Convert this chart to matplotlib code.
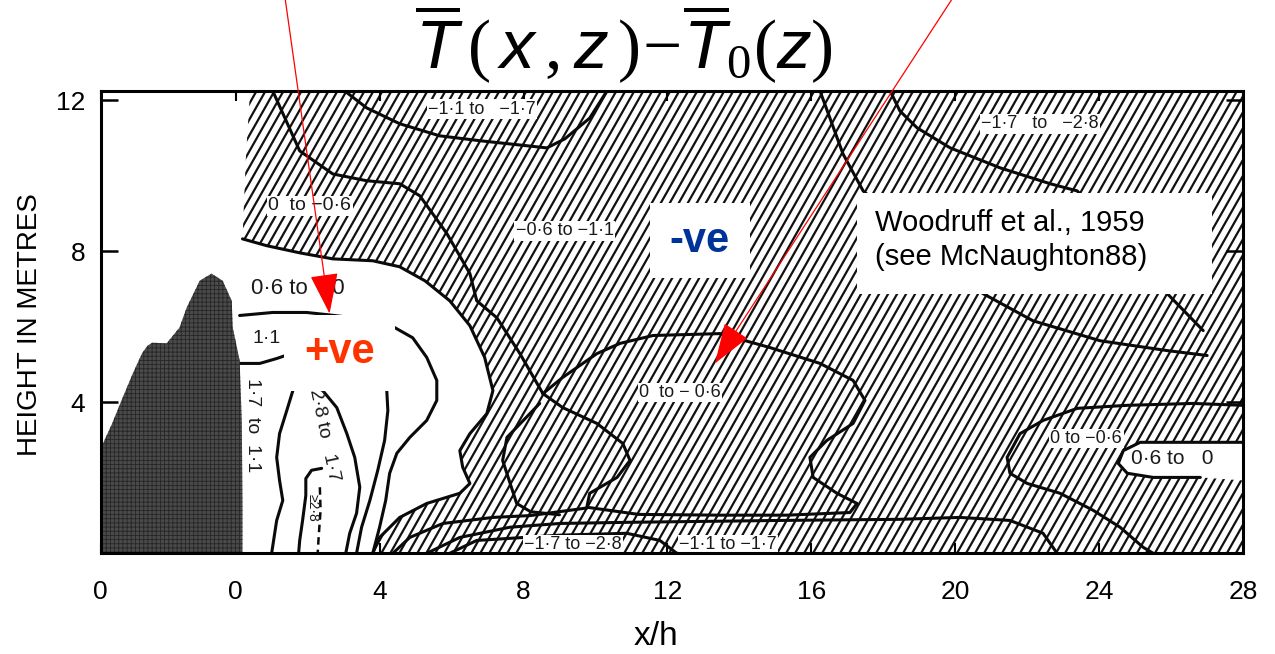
import matplotlib
matplotlib.use('Agg')
import matplotlib.pyplot as plt
import numpy as np
from matplotlib.patches import Polygon, Rectangle
from matplotlib.collections import LineCollection

# shelterbelt / hill profile
hill_x = [-3.75, -3.45, -3.15, -2.86, -2.6, -2.45, -2.31, -1.92, -1.56, -1.36, -1.0,
          -0.67, -0.36, -0.11, -0.08, 0.11, 0.17, 0.19, 0.19]
hill_z = [2.78, 3.4, 4.1, 4.76, 5.3, 5.5, 5.58, 5.56, 5.98, 6.51, 7.22,
          7.41, 7.22, 6.69, 5.98, 5.11, 3.52, 1.40, 0.0]

# zero line: edge of the cold (hatched) field, from the top down to the ground
edge_x = [0.40, 0.28, 0.19, 0.86, 1.78, 2.70, 3.81, 4.56, 5.26, 5.95, 6.51, 6.92,
          7.15, 6.98, 6.51, 6.23, 6.31, 6.51, 6.23, 5.31, 4.56, 4.00, 3.81]
edge_z = [12.25, 10.40, 8.33, 8.15, 7.96, 7.80, 7.75, 7.59, 7.22, 6.69, 6.03, 5.19,
          4.31, 3.70, 3.17, 2.72, 2.28, 1.85, 1.59, 1.32, 0.95, 0.42, 0.0]

# small warm bubble on the right boundary
bub_x = [28.0, 25.14, 24.67, 24.53, 24.78, 25.50, 26.81, 28.0]
bub_z = [2.94, 2.94, 2.72, 2.38, 2.12, 2.01, 2.01, 1.93]

# isotherms in the cold field
n06_x = [1.03, 1.78, 2.70, 3.64, 4.56, 5.12, 5.87, 6.51, 6.70, 7.26, 7.90, 8.54]
n06_z = [12.25, 10.66, 10.05, 9.87, 9.79, 9.47, 8.47, 7.41, 6.69, 6.24, 5.29, 4.23]

mid_x = [8.54, 9.09, 10.04, 10.68, 11.60, 13.46, 14.85, 16.24, 17.16, 17.49, 17.16, 16.43,
         15.96, 16.05, 16.71, 17.27, 17.07, 15.32, 13.46, 11.20, 9.76, 9.84, 10.60, 10.96,
         10.76, 10.04, 9.09, 8.54]
mid_z = [4.23, 4.66, 5.29, 5.56, 5.77, 5.82, 5.45, 5.03, 4.58, 4.05, 3.44, 2.99,
         2.54, 2.01, 1.59, 1.32, 1.08, 1.01, 1.01, 1.03, 1.22, 1.59, 2.01, 2.46,
         2.91, 3.44, 3.86, 4.23]

sad_x = [8.45, 7.54, 7.42, 7.81, 8.20, 9.0]
sad_z = [3.97, 3.07, 2.46, 1.32, 1.10, 1.02]

bb_x = [4.37, 4.84, 5.76, 7.15, 8.20, 9.76]
bb_z = [0.0, 0.42, 0.79, 0.95, 1.0, 1.2]
bc_x = [5.31, 6.23, 7.62, 9.01, 10.87, 15.13, 18.46, 20.13, 21.52, 22.44, 22.83]
bc_z = [0.0, 0.42, 0.69, 0.79, 0.82, 0.87, 0.90, 0.95, 0.87, 0.53, 0.0]
bd_x = [5.95, 6.70, 9.01, 10.87, 11.79, 12.26]
bd_z = [0.0, 0.34, 0.48, 0.53, 0.34, 0.0]

t11_x = [3.03, 3.64, 4.56, 5.67, 6.79, 8.65, 9.15, 9.84, 10.32]
t11_z = [12.25, 11.80, 11.38, 11.06, 10.93, 10.74, 10.98, 11.53, 12.25]
u1_x = [16.24, 16.88, 17.44, 20.77, 22.16, 24.03, 25.89, 27.0]
u1_z = [12.25, 10.58, 9.60, 6.88, 6.16, 5.63, 5.37, 5.24]
u2_x = [18.19, 18.46, 18.94, 19.86, 21.25, 22.64, 23.39, 25.89, 26.89]
u2_z = [12.25, 11.72, 11.27, 10.74, 10.21, 9.79, 9.60, 6.88, 5.90]
r1_x = [28.0, 26.61, 24.78, 23.39, 22.44, 21.80, 21.44, 21.52, 22.0, 22.91, 23.83, 24.58, 25.22, 25.5]
r1_z = [3.92, 3.97, 3.92, 3.84, 3.52, 3.17, 2.54, 2.12, 1.85, 1.59, 1.14, 0.69, 0.16, 0.0]

# isotherms in the warm zone behind the hill
w06_x = [0.11, 1.03, 1.97, 2.56, 3.45, 4.42, 4.92, 5.31, 5.59, 5.59, 5.31, 4.84, 4.48, 4.28, 4.17, 4.00, 3.81]
w06_z = [6.30, 6.38, 6.38, 6.32, 6.22, 5.98, 5.71, 5.19, 4.58, 4.05, 3.52, 3.07, 2.65, 2.12, 1.40, 0.69, 0.0]
w11_x = [0.11, 0.67, 1.14, 1.45]
w11_z = [5.03, 5.03, 5.16, 5.26]
w17a_x = [1.59, 1.42, 1.22, 1.14, 1.22, 1.31, 1.14, 1.00]
w17a_z = [4.31, 3.78, 3.17, 2.54, 1.93, 1.40, 0.87, 0.0]
w17b_x = [2.42, 2.81, 3.09, 3.31, 3.45, 3.36, 3.17, 3.06]
w17b_z = [4.31, 3.86, 3.17, 2.54, 1.75, 1.06, 0.53, 0.0]
w17c_x = [4.20, 4.23, 4.14, 3.95, 3.73, 3.50, 3.36]
w17c_z = [4.31, 3.78, 2.99, 2.20, 1.40, 0.69, 0.0]
w28a_x = [2.39, 2.11, 1.95, 1.95, 1.86, 1.78, 1.75]
w28a_z = [2.25, 2.20, 1.98, 1.53, 0.87, 0.34, 0.0]
w28b_x = [2.34, 2.36, 2.31, 2.28]
w28b_z = [1.75, 1.14, 0.48, 0.0]

# region labels: text, x, z, rotation, sits on hatching?
lab_text = ['0  to \u22120\u00b76', '\u22120\u00b76 to \u22121\u00b71', '\u22121\u00b71 to   \u22121\u00b77',
            '\u22121\u00b77   to   \u22122\u00b78', '0\u00b76 to    0', '1\u00b71', '1\u00b77  to  1\u00b71',
            '2\u00b78 to   1\u00b77', '\u22652\u00b78', '0  to \u2212 0\u00b76', '\u22121\u00b77 to \u22122\u00b78',
            '\u22121\u00b71 to \u22121\u00b77', '0 to \u22120\u00b76', '0\u00b76 to   0']
lab_x = [2.06, 9.15, 6.84, 22.36, 1.72, 0.86, 0.47, 2.45, 2.15, 12.35, 9.37, 13.68, 23.64, 26.03]
lab_z = [9.21, 8.54, 11.77, 11.38, 7.01, 5.69, 3.39, 3.12, 1.19, 4.26, 0.23, 0.23, 3.04, 2.51]
lab_rot = [0, 0, 0, 0, 0, 0, -90, -78, -90, 0, 0, 0, 0, 0]
lab_hatch = [True, True, True, True, False, False, False, False, False, True, True, True, True, False]
lab_size = [14, 13, 13, 13, 16, 14, 14, 14, 10, 13, 13, 13, 13, 15]

xtick_pos = [-3.75, 0, 4, 8, 12, 16, 20, 24, 28]
xtick_lab = ['0', '0', '4', '8', '12', '16', '20', '24', '28']
ytick_pos = [4, 8, 12]

plt.rcParams['font.family'] = 'Liberation Sans'
plt.rcParams['mathtext.fontset'] = 'custom'
plt.rcParams['mathtext.it'] = 'Liberation Sans:italic'
plt.rcParams['mathtext.rm'] = 'Liberation Serif'
plt.rcParams['hatch.linewidth'] = 0.6

fig = plt.figure(figsize=(12.75, 6.54), dpi=100)
ax = fig.add_axes([0.079, 0.154, 0.896, 0.707])
ax.set_xlim(-3.75, 28)
ax.set_ylim(0, 12.25)

# cold field: hatched
cold = list(zip(edge_x, edge_z)) + [(28.0, 0.0)] + list(zip(bub_x[::-1], bub_z[::-1])) + [(28.0, 12.25)]
cold_patch = Polygon(cold, closed=True, fc='none', ec='none')
ax.add_patch(cold_patch)
offs = np.arange(-8.0, 28.5, 0.25)
slope = 1.65
segs = [[(o, -0.5), (o + 13.0 / slope, 12.75)] for o in offs]
hatch = LineCollection(segs, colors='#111111', linewidths=1.6, zorder=1)
hatch.set_clip_path(cold_patch)
ax.add_collection(hatch)

# hill
ax.fill(hill_x + [-3.75], hill_z + [0.0], facecolor='#4a4a4a', edgecolor='#262626',
        hatch='++++', lw=0, zorder=3)

lines = [(edge_x[2:], edge_z[2:]), (bub_x[:7], bub_z[:7]), (n06_x, n06_z), (mid_x, mid_z),
         (sad_x, sad_z), (bb_x, bb_z), (bc_x, bc_z), (bd_x, bd_z), (t11_x, t11_z),
         (u1_x, u1_z), (u2_x, u2_z), (r1_x, r1_z), (w06_x, w06_z), (w11_x, w11_z),
         (w17a_x, w17a_z), (w17b_x, w17b_z), (w17c_x, w17c_z), (w28a_x, w28a_z)]
for lx, lz in lines:
    ax.plot(lx, lz, color='#0a0a0a', lw=2.2, zorder=2, solid_capstyle='round')
ax.plot(w28b_x, w28b_z, color='#0a0a0a', lw=1.8, ls=(0, (3, 2)), zorder=2)

for t, x, z, r, h, s in zip(lab_text, lab_x, lab_z, lab_rot, lab_hatch, lab_size):
    bb = dict(facecolor='white', edgecolor='none', pad=1.0) if h else None
    ax.text(x, z, t, rotation=r, ha='center', va='center', fontsize=s,
            color='#1a1a1a', bbox=bb, zorder=4)

ax.set_xticks(xtick_pos)
ax.set_xticklabels(xtick_lab)
ax.set_yticks(ytick_pos)
ax.set_yticklabels([str(v) for v in ytick_pos])
ax.tick_params(axis='x', direction='in', top=True, length=7, width=1.5, labelsize=19, pad=19)
ax.tick_params(axis='y', direction='in', right=True, length=12, width=1.8, labelsize=19, pad=11)
for sp in ax.spines.values():
    sp.set_linewidth(2.2)
    sp.set_zorder(5)

fig.text(0.0235, 0.503, 'HEIGHT IN METRES', rotation=90, ha='center', va='center', fontsize=20)
fig.text(0.5145, 0.027, 'x/h', ha='center', va='center', fontsize=24)
fig.text(0.489, 0.934, r'$\overline{T}\,(\,x\,,z\,)\!-\!\overline{T}_{0}(z)$',
         ha='center', va='center', fontsize=50)

# overlay notes
ax.add_patch(Rectangle((1.33, 4.31), 3.09, 1.99, fc='white', ec='none', zorder=7))
ax.text(2.89, 5.32, '+ve', color='#ff3300', fontsize=30, fontweight='bold',
        ha='center', va='center', zorder=8)
ax.add_patch(Rectangle((11.51, 7.30), 2.78, 1.99, fc='white', ec='none', zorder=7))
ax.text(12.9, 8.28, '-ve', color='#003399', fontsize=30, fontweight='bold',
        ha='center', va='center', zorder=8)
ax.add_patch(Rectangle((17.27, 6.88), 9.87, 2.67, fc='white', ec='none', zorder=7))
ax.text(17.77, 8.30, 'Woodruff et al., 1959\n(see McNaughton88)', fontsize=21,
        ha='left', va='center', linespacing=1.3, zorder=8)

arrow = dict(arrowstyle='-|>,head_length=1.3,head_width=0.45', color='red', lw=0.9,
             mutation_scale=20, shrinkA=0, shrinkB=0)
ax.annotate('', xy=(2.61, 6.35), xytext=(1.36, 14.8), arrowprops=arrow,
            annotation_clip=False, zorder=10)
ax.annotate('', xy=(13.32, 5.03), xytext=(19.99, 14.8), arrowprops=arrow,
            annotation_clip=False, zorder=10)

fig.savefig('out.png', dpi=100)
